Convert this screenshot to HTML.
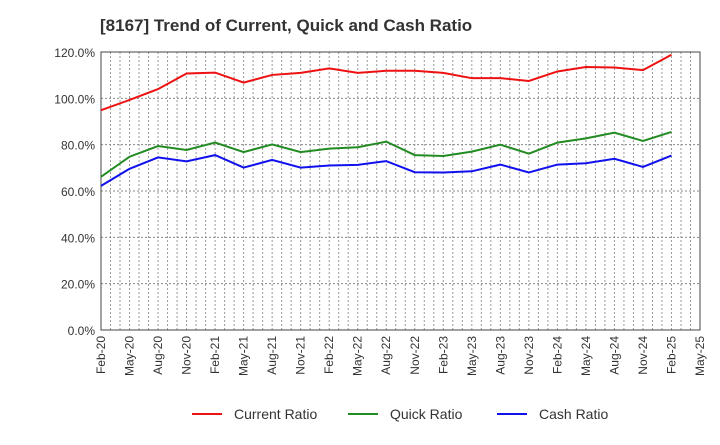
<!DOCTYPE html>
<html><head><meta charset="utf-8"><style>
body{margin:0;background:#fff;font-family:"Liberation Sans",sans-serif}
</style></head><body>
<svg id="c" width="720" height="440" font-family="Liberation Sans, sans-serif"></svg>
<script>
const categories=["Feb-20","May-20","Aug-20","Nov-20","Feb-21","May-21","Aug-21","Nov-21","Feb-22","May-22","Aug-22","Nov-22","Feb-23","May-23","Aug-23","Nov-23","Feb-24","May-24","Aug-24","Nov-24","Feb-25","May-25"];
const currentRatio=[94.9,99.3,104,110.7,111.1,106.8,110.1,111,112.9,111,111.9,111.9,111,108.7,108.7,107.5,111.6,113.5,113.3,112.2,118.8];
const quickRatio=[66.1,74.8,79.4,77.7,80.9,76.8,80.1,76.8,78.3,78.9,81.3,75.5,75.1,77,80,76.1,80.9,82.7,85.2,81.6,85.5];
const cashRatio=[62.2,69.6,74.5,72.8,75.5,70.1,73.4,70.1,71,71.3,72.9,68.1,68,68.5,71.4,68,71.4,72,73.9,70.4,75.3];
const yTicks=[0,20,40,60,80,100,120];
const NS="http://www.w3.org/2000/svg",svg=document.getElementById("c");
const L=101,R=700,T=52,B=330;
const x=i=>L+i*(R-L)/(categories.length-1);
const y=v=>B-(v/120)*(B-T);
function mk(t,a,p){const e=document.createElementNS(NS,t);for(const k in a)e.setAttribute(k,a[k]);(p||svg).appendChild(e);return e;}
const title=mk("text",{x:100,y:31,"font-size":17,"font-weight":"bold",fill:"#333"});


title.textContent="[8167]  Trend of Current, Quick and Cash Ratio";
const grid=mk("g",{});


for(let m=1;m<(categories.length-1)*3;m++){const xx=L+m*(R-L)/((categories.length-1)*3);mk("line",{x1:xx,x2:xx,y1:T,y2:B,stroke:"#999","stroke-dasharray":"2,2","stroke-width":1},grid);}
yTicks.forEach(v=>{mk("line",{x1:L,x2:R,y1:y(v),y2:y(v),stroke:"#888","stroke-dasharray":"2,2"},grid);
const t=mk("text",{x:L-6,y:y(v)+5,"text-anchor":"end","font-size":12,fill:"#333"});


t.textContent=v.toFixed(1)+"%";});
categories.forEach((c,i)=>{const t=mk("text",{transform:`translate(${x(i)+4},${B+6}) rotate(-90)`,"text-anchor":"end","font-size":12,fill:"#333"});


t.textContent=c;});
const frame=mk("rect",{x:L,y:T,width:R-L,height:B-T,fill:"none",stroke:"#444"});


const series=[[currentRatio,"#ee1111","current-ratio-line","Current Ratio"],[quickRatio,"#228b22","quick-ratio-line","Quick Ratio"],[cashRatio,"#1111ee","cash-ratio-line","Cash Ratio"]];
series.forEach(([d,col,n])=>{const p=mk("polyline",{points:d.map((v,i)=>x(i)+","+y(v)).join(" "),fill:"none",stroke:col,"stroke-width":2});

});
const lx=[192,348,497];
series.forEach(([d,col,n,lab],i)=>{const g=mk("g",{});


mk("line",{x1:lx[i],x2:lx[i]+30,y1:414,y2:414,stroke:col,"stroke-width":2},g);
const t=mk("text",{x:lx[i]+42,y:419,"font-size":14,fill:"#333"},g);t.textContent=lab;});
</script>
</body></html>
